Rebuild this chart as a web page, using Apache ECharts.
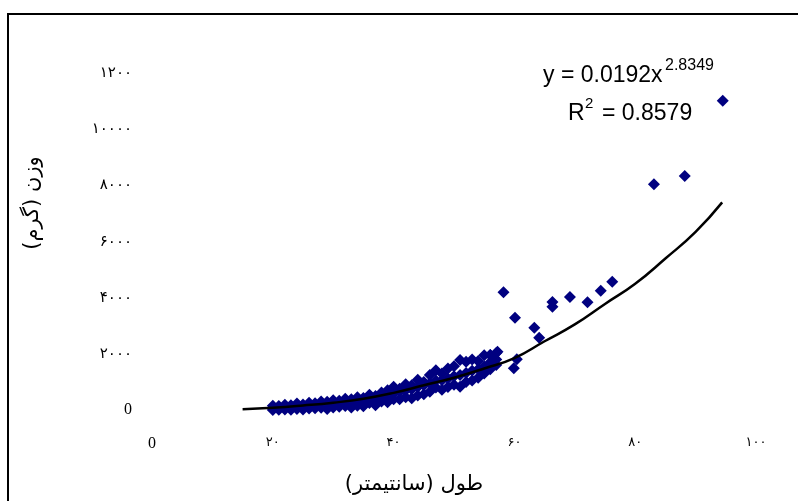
<!DOCTYPE html>
<html lang="fa">
<head>
<meta charset="UTF-8">
<title>وزن و طول</title>
<script src="https://cdn.jsdelivr.net/npm/echarts@6/dist/echarts.min.js"></script>
<style>
html, body { margin: 0; padding: 0; background: #fff; }
#chart { width: 798px; height: 501px; }
</style>
</head>
<body>
<div id="chart"></div>
<script>
// توده اصلی نقاط: برای هر طول یک مقدار پایین، میانه و بالا
var clusterLength = [20, 21, 22, 23, 24, 25, 26, 27, 28, 29, 30, 31, 32, 33, 34, 35, 36, 37, 38,
                     39, 40, 41, 42, 43, 44, 45, 46, 47, 48, 49, 50, 51, 52, 53, 54, 55, 56, 57];
var clusterLow  = [0, 10, 20, 10, 40, 20, 50, 60, 80, 40, 90, 120, 140, 90, 150, 130, 250, 170, 300,
                   280, 380, 380, 450, 420, 520, 560, 650, 800, 720, 820, 900, 830, 1000, 1050, 1150, 1300, 1450, 1600];
var clusterMid  = [60, 80, 100, 110, 130, 140, 170, 180, 200, 210, 240, 260, 300, 310, 340, 350, 400, 420, 480,
                   500, 600, 650, 700, 740, 820, 880, 950, 1050, 1060, 1120, 1200, 1250, 1320, 1400, 1450, 1550, 1700, 1800];
var clusterHigh = [150, 140, 190, 170, 230, 200, 260, 240, 300, 290, 350, 330, 400, 380, 450, 430, 540, 500, 620,
                   700, 830, 760, 920, 880, 1080, 1000, 1250, 1420, 1300, 1480, 1560, 1780, 1720, 1800, 1750, 1950, 1960, 2030];

// نقاط پراکنده
var outlierLength = [56.0, 56.0, 57.2, 58.2, 59.9, 60.1, 60.4, 63.3, 64.1, 66.3, 66.3, 69.2, 72.1, 74.3, 76.2, 83.1, 88.2, 94.5];
var outlierWeight = [1960, 1543, 2078, 4195, 1486, 3290, 1807, 2933, 2577, 3849, 3682, 4027, 3838, 4252, 4573, 8044, 8340, 11024];

// خط روند توانی (خوانده شده از تصویر)
var trendLength = [15, 20, 25, 30, 35, 40, 45, 50, 55, 60, 65, 70, 75, 80, 85, 90, 94.4];
var trendWeight = [30, 80, 160, 260, 400, 610, 880, 1150, 1480, 1850, 2450, 3050, 3780, 4500, 5400, 6350, 7400];

var xTickLabels = ['0', '۲۰', '۴۰', '۶۰', '۸۰', '۱۰۰'];
var yTickLabels = ['0', '۲۰۰۰', '۴۰۰۰', '۶۰۰۰', '۸۰۰۰', '۱۰۰۰۰', '۱۲۰۰'];

var points = [];
for (var i = 0; i < clusterLength.length; i++) {
    points.push([clusterLength[i], clusterLow[i]]);
    points.push([clusterLength[i], clusterMid[i]]);
    points.push([clusterLength[i], clusterHigh[i]]);
}
for (var j = 0; j < outlierLength.length; j++) {
    points.push([outlierLength[j], outlierWeight[j]]);
}
var trend = trendLength.map(function (v, k) { return [v, trendWeight[k]]; });

var chart = echarts.init(document.getElementById('chart'));
chart.setOption({
    backgroundColor: '#fff',
    animation: false,
    grid: { left: 152, right: 42, top: 73.3, bottom: 91, outerBoundsMode: 'none' },
    xAxis: {
        type: 'value', min: 0, max: 100, interval: 20,
        axisLine: { show: false }, axisTick: { show: false }, splitLine: { show: false },
        axisLabel: {
            margin: 26,
            formatter: function (v) {
                var t = xTickLabels[Math.round(v / 20)];
                return v === 0 ? '{l|' + t + '}' : '{p|' + t + '}';
            },
            rich: {
                l: { fontFamily: 'Liberation Serif', fontSize: 16, color: '#000' },
                p: { fontFamily: 'DejaVu Sans', fontSize: 13, color: '#000' }
            }
        }
    },
    yAxis: {
        type: 'value', min: 0, max: 12000, interval: 2000,
        axisLine: { show: false }, axisTick: { show: false }, splitLine: { show: false },
        axisLabel: {
            margin: 20,
            formatter: function (v) {
                var t = yTickLabels[Math.round(v / 2000)];
                return v === 0 ? '{l|' + t + '}' : '{p|' + t + '}';
            },
            rich: {
                l: { fontFamily: 'Liberation Serif', fontSize: 16, color: '#000' },
                p: { fontFamily: 'DejaVu Sans', fontSize: 15, color: '#000' }
            }
        }
    },
    series: [
        {
            type: 'scatter',
            symbol: 'diamond',
            symbolSize: 12,
            clip: false,
            itemStyle: { color: '#000080', opacity: 1 },
            data: points,
            z: 2
        },
        {
            type: 'line',
            smooth: true,
            symbol: 'none',
            clip: false,
            lineStyle: { color: '#000', width: 2.5 },
            data: trend,
            z: 3
        }
    ],
    graphic: [
        {
            type: 'polyline',
            shape: { points: [[8, 501], [8, 14], [798, 14]] },
            style: { stroke: '#000', lineWidth: 2, fill: null }
        },
        {
            type: 'text', x: 33, y: 203, rotation: Math.PI / 2,
            style: { text: 'وزن (گرم)', font: '21px "DejaVu Sans"', fill: '#000', align: 'center', verticalAlign: 'middle' }
        },
        {
            type: 'text', x: 414, y: 485,
            style: { text: 'طول (سانتیمتر)', font: '21px "DejaVu Sans"', fill: '#000', align: 'center', verticalAlign: 'middle' }
        },
        {
            type: 'text', x: 543, y: 76,
            style: { text: 'y = 0.0192x', font: '23px "Liberation Sans"', fill: '#000', align: 'left', verticalAlign: 'middle' }
        },
        {
            type: 'text', x: 665, y: 66,
            style: { text: '2.8349', font: '16px "Liberation Sans"', fill: '#000', align: 'left', verticalAlign: 'middle' }
        },
        {
            type: 'text', x: 568, y: 114,
            style: { text: 'R', font: '23px "Liberation Sans"', fill: '#000', align: 'left', verticalAlign: 'middle' }
        },
        {
            type: 'text', x: 585, y: 104,
            style: { text: '2', font: '15px "Liberation Sans"', fill: '#000', align: 'left', verticalAlign: 'middle' }
        },
        {
            type: 'text', x: 602, y: 114,
            style: { text: '= 0.8579', font: '23px "Liberation Sans"', fill: '#000', align: 'left', verticalAlign: 'middle' }
        }
    ]
});
</script>
</body>
</html>
